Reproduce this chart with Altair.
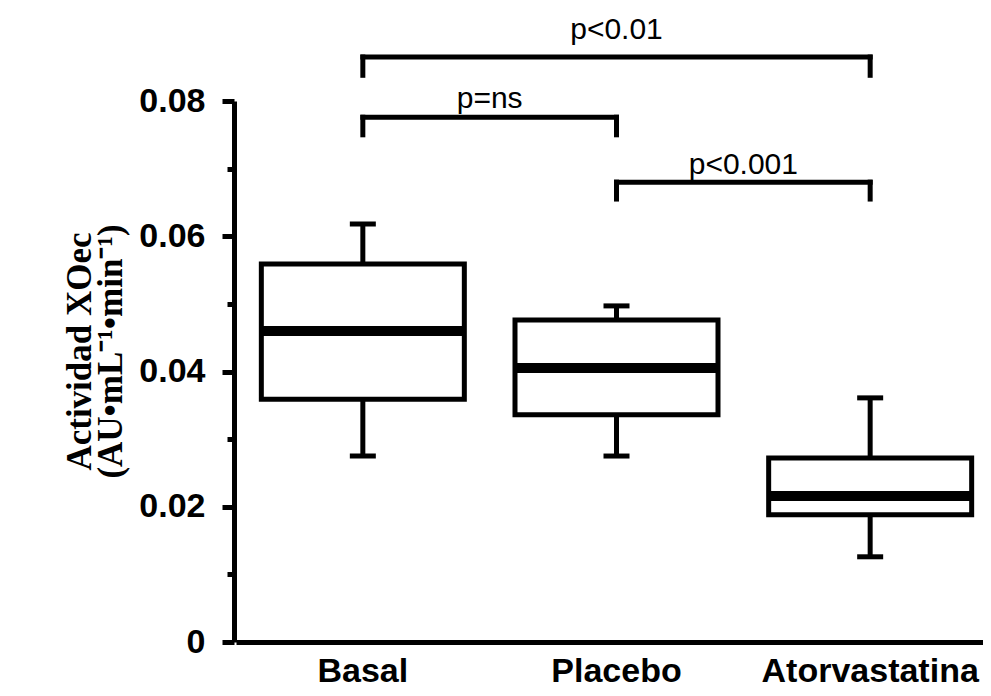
import altair as alt
import pandas as pd

# ---- data ----
groups = ["Basal", "Placebo", "Atorvastatina"]
whisker_low = [0.0275, 0.0275, 0.0126]
q1 = [0.0359, 0.0336, 0.0188]
median = [0.0460, 0.0405, 0.0216]
q3 = [0.0559, 0.0476, 0.0272]
whisker_high = [0.0618, 0.0497, 0.0361]

# significance brackets
br_start = ["Basal", "Basal", "Placebo"]
br_end = ["Atorvastatina", "Placebo", "Atorvastatina"]
br_level = [0.0865, 0.0776, 0.0680]
br_tip = [0.0838, 0.0750, 0.0655]
br_label = ["p<0.01", "p=ns", "p<0.001"]
br_label_y = [0.0905, 0.0803, 0.0705]

y_ticks = [0, 0.01, 0.02, 0.03, 0.04, 0.05, 0.06, 0.07, 0.08]

box = pd.DataFrame({"g": groups, "lo": whisker_low, "q1": q1, "med": median,
                    "q3": q3, "hi": whisker_high})
br = pd.DataFrame({"s": br_start, "e": br_end, "lvl": br_level, "tip": br_tip,
                   "lab": br_label, "ly": br_label_y})

xscale = alt.Scale(type="band", domain=groups, range=[2, 763],
                   paddingInner=0, paddingOuter=0)
yscale = alt.Scale(domain=[0, 0.08], nice=False, zero=True)

xaxis = alt.Axis(title=None, ticks=False, tickSize=0, domainWidth=5,
                 domainColor="black", labelAngle=0, labelFont="Liberation Sans",
                 labelFontWeight="bold", labelFontSize=34, labelColor="black",
                 labelPadding=12, labelBaseline="top", labelLimit=0)
yaxis = alt.Axis(
    values=y_ticks,
    labelExpr="round(datum.value*100) % 2 == 0 ? (datum.value == 0 ? '0' : format(datum.value, '.2f')) : ''",
    grid=False, domainWidth=5, domainColor="black", tickColor="black",
    tickWidth=5,
    tickSize={"condition": {"test": "round(datum.value*100) % 2 == 0", "value": 12}, "value": 7},
    labelFont="Liberation Sans", labelFontWeight="bold", labelFontSize=34,
    labelColor="black", labelPadding=17,
    title=["Actividad XOec", "(AU\u2022mL\u207b\u00b9\u2022min\u207b\u00b9)"],
    titleFont="Liberation Serif", titleFontWeight="bold", titleFontSize=35,
    titleColor="black", titleLineHeight=31, titleAngle=270,
    titleAlign="center", titleBaseline="middle", titleX=-155, titleY=250,
)

base = alt.Chart(box)
X = alt.X("g:N", scale=xscale, axis=xaxis, sort=groups)

whisk = base.mark_rule(color="black", strokeWidth=5).encode(
    x=X, y=alt.Y("lo:Q", scale=yscale, axis=yaxis), y2="hi:Q")
caps_lo = base.mark_tick(color="black", opacity=1, size=26, thickness=5, orient="horizontal").encode(
    x=X, y=alt.Y("lo:Q", scale=yscale))
caps_hi = base.mark_tick(color="black", opacity=1, size=26, thickness=5, orient="horizontal").encode(
    x=X, y=alt.Y("hi:Q", scale=yscale))
boxes = base.mark_bar(fill="white", stroke="black", strokeWidth=5, size=203, opacity=1).encode(
    x=X, y=alt.Y("q1:Q", scale=yscale), y2="q3:Q")
med = base.mark_tick(color="black", opacity=1, size=203, thickness=10, orient="horizontal").encode(
    x=X, y=alt.Y("med:Q", scale=yscale))

bb = alt.Chart(br)
hline = bb.mark_rule(color="black", strokeWidth=5, strokeCap="square").encode(
    x=alt.X("s:N", scale=xscale, sort=groups),
    x2="e:N",
    y=alt.Y("lvl:Q", scale=yscale))
vl = bb.mark_rule(color="black", strokeWidth=5, strokeCap="square").encode(
    x=alt.X("s:N", scale=xscale, sort=groups), y=alt.Y("lvl:Q", scale=yscale), y2="tip:Q")
vr = bb.mark_rule(color="black", strokeWidth=5, strokeCap="square").encode(
    x=alt.X("e:N", scale=xscale, sort=groups), y=alt.Y("lvl:Q", scale=yscale), y2="tip:Q")

# label of the wide bracket sits over the middle group; the pair labels sit
# at the boundary between the two bracketed groups
txt_mid = bb.transform_filter(alt.datum.lab == "p<0.01").transform_calculate(
    mid="'Placebo'").mark_text(
    font="Liberation Sans", fontSize=30, color="black", baseline="middle").encode(
    x=alt.X("mid:N", scale=xscale, sort=groups),
    y=alt.Y("ly:Q", scale=yscale), text="lab:N")
txt_pair = bb.transform_filter(alt.datum.lab != "p<0.01").mark_text(
    font="Liberation Sans", fontSize=30, color="black", baseline="middle").encode(
    x=alt.X("s:N", scale=xscale, sort=groups, bandPosition=1),
    y=alt.Y("ly:Q", scale=yscale), text="lab:N")

chart = alt.layer(whisk, caps_lo, caps_hi, boxes, med, hline, vl, vr, txt_mid, txt_pair).properties(
    width=749, height=541,
    padding={"left": 226, "top": 93, "right": 0, "bottom": 46},
    autosize=alt.AutoSizeParams(type="none"),
    background="white",
).configure_view(stroke=None)

chart.save("out.html", embed_options={"renderer": "svg", "actions": False})
